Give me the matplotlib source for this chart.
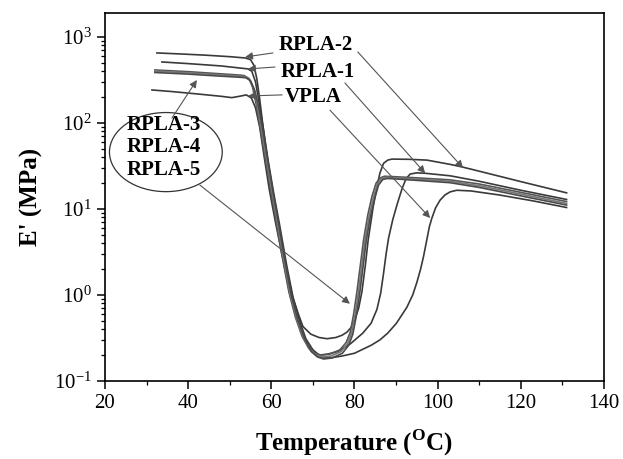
import matplotlib
matplotlib.use("Agg")
import matplotlib.pyplot as plt
from matplotlib.patches import Ellipse

plt.rcParams['font.family'] = 'Liberation Serif'
plt.rcParams['mathtext.fontset'] = 'custom'
plt.rcParams['mathtext.rm'] = 'Liberation Serif'
plt.rcParams['mathtext.bf'] = 'Liberation Serif:bold'
plt.rcParams['axes.unicode_minus'] = False

# storage modulus E' (MPa) vs temperature (C)
vpla_t = [31.3, 36, 42, 48, 50.5, 52.5, 54.0, 55.2, 56.2, 57.2, 58.3, 59.5, 61.0, 62.8,
          64.5, 66.3, 68.0, 69.8, 71.5, 74, 77, 80, 84, 86.1, 88.0, 90.1, 92.6, 94.0,
          95.0, 95.9, 96.6, 97.4, 98.0, 98.6, 99.5, 100.6, 101.8, 103.0, 104.6, 108,
          115, 123, 131]
vpla_e = [242, 232, 218, 204, 197, 205, 212, 195, 150, 90, 40, 17, 7, 2.6,
          1.0, 0.5, 0.3, 0.22, 0.19, 0.185, 0.195, 0.21, 0.26, 0.30, 0.36, 0.47, 0.72, 1.0,
          1.4, 2.0, 2.8, 4.4, 6.2, 7.8, 10.3, 12.7, 14.6, 15.8, 16.5, 16.2,
          14.5, 12.4, 10.4]

rpla1_t = [33.7, 40, 48, 54.4, 55.3, 56.2, 57.0, 58.0, 59.3, 60.6, 62.0, 63.7, 65.3, 66.8,
           68.3, 70.0, 71.5, 73.5, 76, 79, 82, 84, 85.4, 86.3, 87.0, 87.6, 88.2, 89.2,
           90.3, 91.4, 92.4, 93.4, 95, 97, 103, 110, 120, 131]
rpla1_e = [512, 490, 460, 425, 400, 300, 180, 90, 35, 15, 6.5, 2.2, 0.9, 0.5,
           0.31, 0.23, 0.2, 0.205, 0.22, 0.27, 0.36, 0.47, 0.68, 1.05, 1.8, 3.0, 4.6, 7.5,
           11.5, 17, 22.5, 25.5, 26.3, 26.0, 24.3, 21.0, 16.5, 12.9]

rpla2_t = [32.5, 38, 44, 50, 53.7, 55.0, 55.8, 56.5, 57.2, 57.9, 59.0, 60.2, 61.6, 63.2,
           65.0, 66.5, 67.6, 69.5, 71.5, 73.4, 75.5, 77.0, 78.2, 79.2, 80.1, 81.0, 81.8,
           82.6, 83.3, 84.5, 85.4, 86.1, 87.0, 88.0, 89.0, 93, 97.4, 103, 106, 112, 120, 131]
rpla2_e = [652, 635, 615, 590, 570, 545, 470, 330, 190, 100, 40, 17, 7, 2.5,
           1.0, 0.6, 0.43, 0.35, 0.32, 0.31, 0.32, 0.34, 0.37, 0.42, 0.52, 0.7, 1.1,
           2.2, 4.4, 10.6, 18, 26, 34, 37, 38, 37.8, 37, 33, 30.7, 26, 20.8, 15.4]

rpla3_t = [32, 40, 47, 52.5, 53.5, 54.6, 55.5, 56.3, 57.2, 58.5, 59.8, 61.0, 62.5, 64.2,
           65.8, 67.4, 69.0, 70.5, 72, 74, 76.5, 78, 79, 79.8, 80.6, 81.5, 82.2, 83.2,
           84.2, 85.2, 86.2, 87.2, 89, 95, 103, 110, 120, 131]
rpla3_e = [413, 395, 375, 360, 355, 330, 260, 170, 95, 40, 17, 8, 3, 1.1,
           0.55, 0.33, 0.24, 0.21, 0.2, 0.205, 0.23, 0.28, 0.37, 0.6, 1.1, 2.4, 4.4, 8.5,
           14, 20, 23, 24, 23.8, 23, 21.8, 19.5, 15.6, 12.2]

rpla4_t = [32, 40, 47, 52.5, 53.7, 54.8, 55.8, 56.6, 57.5, 58.8, 60.1, 61.3, 62.8, 64.5,
           66.1, 67.7, 69.3, 70.8, 72.3, 74.3, 76.8, 78.3, 79.3, 80.1, 80.9, 81.8, 82.5,
           83.5, 84.5, 85.5, 86.5, 87.5, 89, 95, 103, 110, 120, 131]
rpla4_e = [400, 383, 364, 350, 345, 320, 250, 165, 92, 39, 16.5, 7.8, 2.9, 1.05,
           0.53, 0.32, 0.23, 0.2, 0.19, 0.195, 0.22, 0.27, 0.36, 0.58, 1.05, 2.3, 4.3,
           8.2, 13.5, 19.5, 22.5, 23.3, 23.2, 22.2, 21.0, 18.6, 14.9, 11.6]

rpla5_t = [32, 40, 47, 52.5, 53.9, 55.0, 56.0, 56.9, 57.8, 59.1, 60.4, 61.6, 63.1, 64.8,
           66.4, 68.0, 69.6, 71.1, 72.6, 74.6, 77.1, 78.6, 79.6, 80.4, 81.2, 82.1, 82.8,
           83.8, 84.8, 85.8, 86.8, 87.8, 89, 95, 103, 110, 120, 131]
rpla5_e = [386, 370, 352, 340, 335, 310, 240, 160, 90, 38, 16, 7.5, 2.8, 1.0,
           0.51, 0.31, 0.22, 0.19, 0.18, 0.185, 0.21, 0.26, 0.35, 0.56, 1.0, 2.2, 4.2,
           8.0, 13, 19, 22, 22.6, 22.5, 21.5, 20.2, 17.8, 14.2, 11.1]

curves = [(vpla_t, vpla_e), (rpla1_t, rpla1_e), (rpla2_t, rpla2_e),
          (rpla3_t, rpla3_e), (rpla4_t, rpla4_e), (rpla5_t, rpla5_e)]
line_colors = ['#3a3a3a', '#3a3a3a', '#3a3a3a', '#555555', '#777777', '#4a4a4a']

fig = plt.figure(figsize=(6.23, 4.59), dpi=100)
ax = fig.add_axes([0.1685, 0.170, 0.801, 0.8017])

for (t, e), c in zip(curves, line_colors):
    ax.plot(t, e, color=c, lw=1.2)

ax.set_yscale('log')
ax.set_xlim(20, 140)
ax.set_ylim(0.1, 1900)
ax.set_xticks([20, 40, 60, 80, 100, 120, 140])
ax.set_xticks([30, 50, 70, 90, 110, 130], minor=True)
ax.tick_params(axis='both', which='major', labelsize=15, length=6, width=1.1,
               direction='out', top=False, right=False)
ax.tick_params(axis='both', which='minor', length=3, width=0.9,
               direction='out', top=False, right=False)
for s in ax.spines.values():
    s.set_linewidth(1.2)

ax.set_xlabel(r'Temperature ($^{\mathbf{O}}$C)', fontsize=18, fontweight='bold', labelpad=10)
ax.set_ylabel("E' (MPa)", fontsize=18, fontweight='bold', labelpad=8)

arrow = dict(arrowstyle='-|>', color='#555555', lw=0.8, mutation_scale=11,
             shrinkA=0, shrinkB=0)
lab = dict(fontsize=15, fontweight='bold', transform=ax.transAxes, va='center')

# labels on the right of the glassy plateau
ax.text(0.347, 0.913, 'RPLA-2', ha='left', **lab)
ax.text(0.351, 0.840, 'RPLA-1', ha='left', **lab)
ax.text(0.361, 0.772, 'VPLA', ha='left', **lab)

ax.annotate('', xy=(53.7, 585), xytext=(60.4, 652), arrowprops=arrow)
ax.annotate('', xy=(106.1, 30), xytext=(80.8, 669), arrowprops=arrow)
ax.annotate('', xy=(54.4, 425), xytext=(60.9, 447), arrowprops=arrow)
ax.annotate('', xy=(97.0, 26), xytext=(77.7, 292), arrowprops=arrow)
ax.annotate('', xy=(54.4, 206), xytext=(62.6, 212), arrowprops=arrow)
ax.annotate('', xy=(98.2, 7.85), xytext=(74.1, 141), arrowprops=arrow)

# ellipse grouping RPLA-3/4/5
ax.add_patch(Ellipse((0.122, 0.622), 0.226, 0.215, transform=ax.transAxes,
                     fill=False, ec='#333333', lw=0.9))
ax.text(0.118, 0.696, 'RPLA-3', ha='center', **lab)
ax.text(0.118, 0.636, 'RPLA-4', ha='center', **lab)
ax.text(0.118, 0.573, 'RPLA-5', ha='center', **lab)
ax.annotate('', xy=(42.1, 316), xytext=(36.1, 114), arrowprops=arrow)
ax.annotate('', xy=(78.9, 0.79), xytext=(42.8, 19), arrowprops=arrow)

fig.savefig('out.png', dpi=100)
